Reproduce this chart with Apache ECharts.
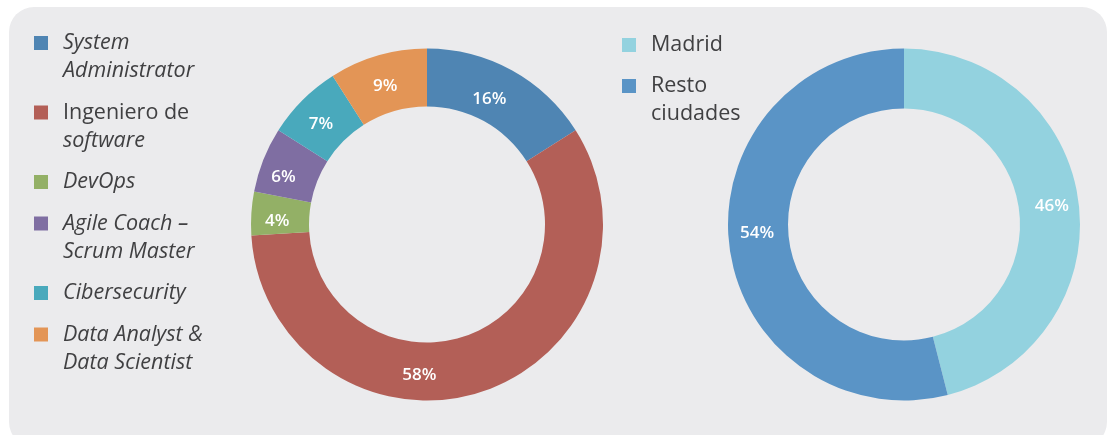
<!DOCTYPE html>
<html>
<head>
<meta charset="utf-8">
<script src="https://cdn.jsdelivr.net/npm/echarts@6/dist/echarts.min.js"></script>
<style>
  html, body { margin: 0; padding: 0; background: #fff; }
  #main { width: 1114px; height: 435px; }
</style>
</head>
<body>
<div id="main"></div>
<script>
// perfiles (donut izquierdo)
const roles = ['System\nAdministrator', 'Ingeniero de\nsoftware', 'DevOps', 'Agile Coach –\nScrum Master', 'Cibersecurity', 'Data Analyst &\nData Scientist']
const roleValues = [16, 58, 4, 6, 7, 9]
const roleColors = ['#4f85b3', '#b35f57', '#93b066', '#7f6ea2', '#49a9bc', '#e39556']

// ubicacion (donut derecho)
const cities = ['Madrid', 'Resto\nciudades']
const cityValues = [46, 54]
const cityColors = ['#93d2df', '#5a94c6']

const chart = echarts.init(document.getElementById('main'))

const LINE = 28
const txt = {
    fontFamily: 'Open Sans',
    fontSize: 21.5,
    lineHeight: LINE,
    color: '#404042'
}

// una leyenda por elemento, asi el cuadrado queda en la primera linea
function buildLegends(names, left, firstCenter, gap, italic) {
    let list = []
    let center = firstCenter
    names.forEach((name) => {
        let lines = name.split('\n').length
        let padTop = (lines - 1) * LINE
        list.push({
            data: [name],
            orient: 'vertical',
            left: left,
            top: center - 14 - padTop,
            padding: 0,
            itemWidth: 14,
            itemHeight: 14,
            icon: 'rect',
            selectedMode: false,
            formatter: function (n) {
                if (n === 'Ingeniero de\nsoftware') {
                    return '{n|Ingeniero de}\n{i|software}'
                }
                return n
            },
            textStyle: Object.assign({}, txt, {
                fontStyle: italic ? 'italic' : 'normal',
                padding: [padTop, 0, 0, 10],
                rich: {
                    n: Object.assign({}, txt, { fontStyle: 'normal' }),
                    i: Object.assign({}, txt, { fontStyle: 'italic' })
                }
            })
        })
        center += lines * LINE + gap
    })
    return list
}

const pieLabel = {
    show: true,
    position: 'inside',
    formatter: '{c}%',
    color: '#fff',
    fontFamily: 'Open Sans',
    fontSize: 17,
    fontWeight: 600
}

let roleNudge = { 0: [-10, 6], 1: [-54, 8], 3: [-4, 8] }
let roleData = roles.map((n, i) => {
    return {
        name: n,
        value: roleValues[i],
        itemStyle: { color: roleColors[i] },
        label: { offset: roleNudge[i] || [0, 6] }
    }
})
let cityData = cities.map((n, i) => {
    let d = { name: n, value: cityValues[i], itemStyle: { color: cityColors[i] } }
    if (i === 1) d.label = { offset: [1, -10] }
    return d
})

const option = {
    animation: false,
    graphic: [{
        type: 'rect',
        z: -10,
        shape: { x: 9, y: 7, width: 1098, height: 440, r: 25 },
        style: { fill: '#ebebed' }
    }],
    legend: buildLegends(roles, 34, 43, 13.5, true).concat(buildLegends(cities, 622, 45, 13, false)),
    series: [{
        type: 'pie',
        center: [427, 224.5],
        radius: [118, 176],
        startAngle: 90,
        clockwise: true,
        silent: true,
        label: pieLabel,
        labelLine: { show: false },
        data: roleData
    }, {
        type: 'pie',
        center: [904, 224.5],
        radius: [116, 176],
        startAngle: 90,
        clockwise: true,
        silent: true,
        label: pieLabel,
        labelLine: { show: false },
        data: cityData
    }]
}

chart.setOption(option)
</script>
</body>
</html>
